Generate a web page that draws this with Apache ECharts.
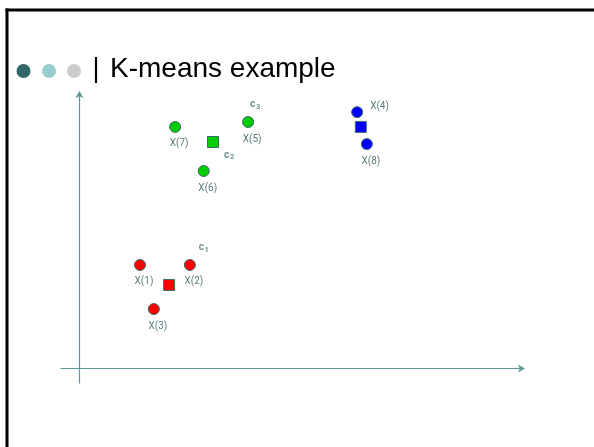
<!DOCTYPE html>
<html><head><meta charset="utf-8">
<script src="https://cdn.jsdelivr.net/npm/echarts@6/dist/echarts.min.js"></script>
<style>html,body{margin:0;padding:0;background:#fff}#c{width:594px;height:447px}</style>
</head><body><div id="c"></div>
<script>
// ---- data ----
const title = 'K-means example';
const pointNames = ['X(1)', 'X(2)', 'X(3)', 'X(4)', 'X(5)', 'X(6)', 'X(7)', 'X(8)'];
const pointX = [13.1, 23.9, 16.1, 60.1, 36.5, 26.9, 20.7, 62.2];
const pointY = [35.7, 35.7, 20.5, 88.4, 85.0, 68.1, 83.3, 77.4];
const pointCluster = [0, 0, 0, 2, 1, 1, 1, 2];
const centroidX = [19.4, 28.9, 60.9];
const centroidY = [28.8, 78.1, 83.3];
const centroidLabels = ['c1', 'c2', 'c3'];
const centroidLabelX = [26.9, 32.4, 38.0];
const centroidLabelY = [41.6, 73.6, 90.9];

// ---- styles ----
const clusterColors = ['#ff0000', '#00cc00', '#0000ff'];
const edge = '#3f6a6a';
const labelColor = '#5b7d7d';
const axisColor = '#5e9696';
const labelRight = { 'X(4)': true };

const chart = echarts.init(document.getElementById('c'), null, { renderer: 'canvas' });

const pointSeries = clusterColors.map((col, k) => ({
  type: 'scatter',
  symbol: 'circle',
  symbolSize: 11,
  itemStyle: { color: col, borderColor: edge, borderWidth: 1, opacity: 1 },
  z: 3,
  data: pointNames.map((n, i) => ({ n, i })).filter(o => pointCluster[o.i] === k).map(o => ({
    name: o.n,
    value: [pointX[o.i], pointY[o.i]],
    label: labelRight[o.n]
      ? { show: true, position: 'right', distance: 7, offset: [0, -6] }
      : { show: true, position: 'bottom', distance: 6, offset: [4, 0] }
  })),
  label: { show: true, formatter: p => p.name, color: labelColor, fontSize: 10, fontFamily: 'Roboto, Arial, sans-serif' }
}));

const centroidSeries = {
  type: 'scatter',
  symbol: 'rect',
  symbolSize: 11,
  z: 3,
  data: centroidX.map((x, i) => ({
    value: [x, centroidY[i]],
    itemStyle: { color: clusterColors[i], borderColor: edge, borderWidth: 1, opacity: 1 }
  }))
};

const cLabelSeries = {
  type: 'scatter',
  symbolSize: 0,
  silent: true,
  data: centroidLabels.map((t, i) => ({ name: t, value: [centroidLabelX[i], centroidLabelY[i]] })),
  label: {
    show: true, position: 'inside',
    formatter: p => '{b|' + p.name.charAt(0) + '}{s|' + p.name.slice(1) + '}',
    rich: {
      b: { fontSize: 10, fontWeight: 'bold', color: '#4a6e6e', fontFamily: 'Roboto, Arial, sans-serif' },
      s: { fontSize: 7, fontWeight: 'bold', color: '#4a6e6e', verticalAlign: 'bottom', padding: [5, 0, 0, 1], fontFamily: 'Roboto, Arial, sans-serif' }
    }
  }
};

chart.setOption({
  animation: false,
  backgroundColor: '#ffffff',
  grid: { left: 61, right: 71, top: 93, bottom: 64 },
  xAxis: {
    type: 'value', min: -4, max: 96,
    axisLine: { onZero: true, lineStyle: { color: axisColor, width: 1.2 }, symbol: ['none', 'arrow'], symbolSize: [6, 7], symbolOffset: [0, 2] },
    axisTick: { show: false }, axisLabel: { show: false }, splitLine: { show: false }
  },
  yAxis: {
    type: 'value', min: -5, max: 95,
    axisLine: { onZero: true, lineStyle: { color: axisColor, width: 1.2 }, symbol: ['none', 'arrow'], symbolSize: [6, 7], symbolOffset: [0, 2] },
    axisTick: { show: false }, axisLabel: { show: false }, splitLine: { show: false }
  },
  graphic: [
    { type: 'line', shape: { x1: 5.5, y1: 10, x2: 594, y2: 10 }, style: { stroke: '#000', lineWidth: 3 } },
    { type: 'line', shape: { x1: 7, y1: 8.5, x2: 7, y2: 447 }, style: { stroke: '#000', lineWidth: 3 } },
    { type: 'circle', shape: { cx: 23.5, cy: 71, r: 7 }, style: { fill: '#336666' } },
    { type: 'circle', shape: { cx: 49, cy: 71, r: 7 }, style: { fill: '#99cccc' } },
    { type: 'circle', shape: { cx: 74, cy: 71, r: 7 }, style: { fill: '#cccccc' } },
    { type: 'line', shape: { x1: 96, y1: 57, x2: 96, y2: 83 }, style: { stroke: '#000', lineWidth: 2.2 } },
    { type: 'text', left: 110, top: 55, style: { text: title, fill: '#000', font: '28px "Liberation Sans", Arial, sans-serif' } }
  ],
  series: [...pointSeries, centroidSeries, cLabelSeries]
});
</script></body></html>
